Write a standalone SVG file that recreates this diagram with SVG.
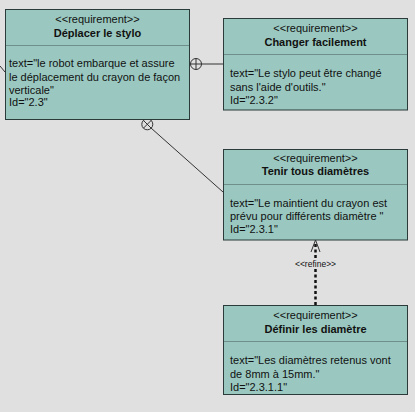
<svg xmlns="http://www.w3.org/2000/svg" width="415" height="412" viewBox="0 0 415 412">
<style>
.box{fill:#9ac8c0;stroke:#2b3b39;stroke-width:1}
.sep{stroke:#6f8f8a;stroke-width:1}
.t{font-family:"Liberation Sans",Arial,sans-serif;font-size:11px;fill:#111}
.b{font-weight:bold}
.c{text-anchor:middle}
.ln{stroke:#333;stroke-width:1;fill:none}
</style>
<rect width="415" height="412" fill="#e0e0e0"/>
<g id="connectors">
<line class="ln" x1="0" y1="66" x2="5" y2="72"/>
<line class="ln" x1="201.5" y1="64" x2="223" y2="64"/>
<circle class="ln" cx="196" cy="64" r="5.5" fill="#e0e0e0"/>
<line class="ln" x1="190.5" y1="64" x2="201.5" y2="64"/>
<line class="ln" x1="196" y1="58.5" x2="196" y2="69.5"/>
<line class="ln" x1="151" y1="128" x2="223" y2="192"/>
<circle class="ln" cx="147.3" cy="124.3" r="5.5" fill="#e0e0e0"/>
<line class="ln" x1="143.4" y1="120.4" x2="151.2" y2="128.2"/>
<line class="ln" x1="151.2" y1="120.4" x2="143.4" y2="128.2"/>
<polyline class="ln" points="311,252 315.5,240 320,252"/>
<line x1="315.5" y1="244" x2="315.5" y2="258" stroke="#111" stroke-width="2.5" stroke-dasharray="3,2.5"/>
<line x1="315.5" y1="269" x2="315.5" y2="305" stroke="#111" stroke-width="2.5" stroke-dasharray="3,2.5"/>
<text class="t c" x="315.5" y="267" style="font-size:8.5px">&lt;&lt;refine&gt;&gt;</text>
</g>
<g id="deplacer">
<rect class="box" x="5.5" y="9.5" width="184" height="110"/>
<line class="sep" x1="6" y1="45.5" x2="189" y2="45.5"/>
<text class="t c" x="97.5" y="22.5">&lt;&lt;requirement&gt;&gt;</text>
<text class="t b c" x="97.5" y="36.5">Déplacer le stylo</text>
<text class="t" x="9" y="67">text="le robot embarque et assure</text>
<text class="t" x="9" y="80.5">le déplacement du crayon de façon</text>
<text class="t" x="9" y="94">verticale"</text>
<text class="t" x="9" y="106">Id="2.3"</text>
</g>
<g id="changer">
<rect class="box" x="223.5" y="18.5" width="184" height="91.5"/>
<line class="sep" x1="224" y1="54.5" x2="407" y2="54.5"/>
<text class="t c" x="315.5" y="32">&lt;&lt;requirement&gt;&gt;</text>
<text class="t b c" x="315.5" y="46">Changer facilement</text>
<text class="t" x="230" y="77">text="Le stylo peut être changé</text>
<text class="t" x="230" y="90.5">sans l'aide d'outils."</text>
<text class="t" x="230" y="103.5">Id="2.3.2"</text>
</g>
<g id="tenir">
<rect class="box" x="223.5" y="149.5" width="184" height="90.5"/>
<line class="sep" x1="224" y1="184.5" x2="407" y2="184.5"/>
<text class="t c" x="315.5" y="162">&lt;&lt;requirement&gt;&gt;</text>
<text class="t b c" x="315.5" y="175">Tenir tous diamètres</text>
<text class="t" x="230" y="206.5">text="Le maintient du crayon est</text>
<text class="t" x="230" y="220">prévu pour différents diamètre "</text>
<text class="t" x="230" y="232.5">Id="2.3.1"</text>
</g>
<g id="definir">
<rect class="box" x="223.5" y="305.5" width="184" height="89"/>
<line class="sep" x1="224" y1="341.5" x2="407" y2="341.5"/>
<text class="t c" x="315.5" y="319">&lt;&lt;requirement&gt;&gt;</text>
<text class="t b c" x="315.5" y="332.5">Définir les diamètre</text>
<text class="t" x="230" y="364">text="Les diamètres retenus vont</text>
<text class="t" x="230" y="377.5">de 8mm à 15mm."</text>
<text class="t" x="230" y="391">Id="2.3.1.1"</text>
</g>
</svg>
